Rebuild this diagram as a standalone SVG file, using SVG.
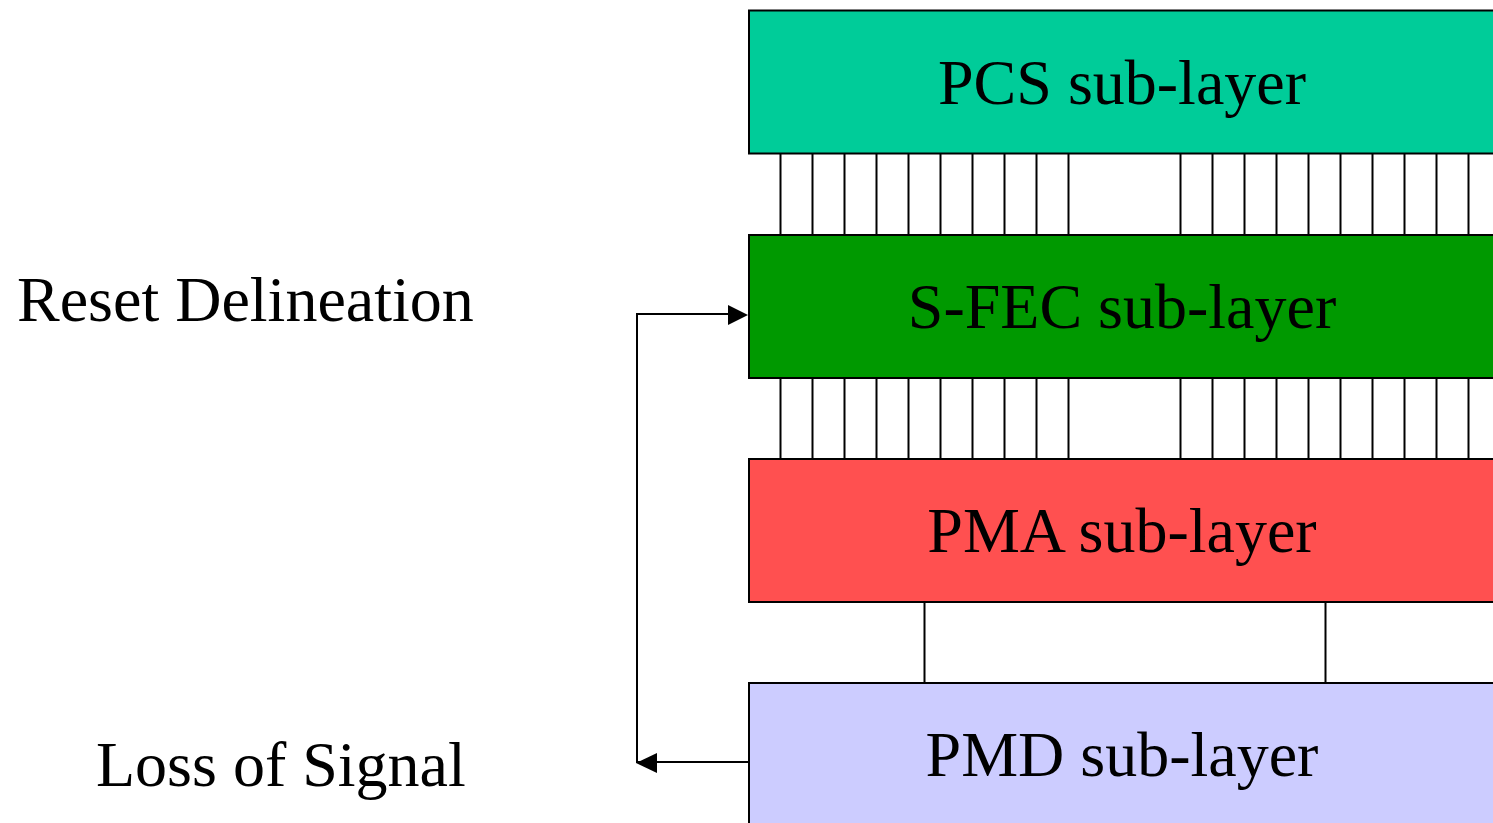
<svg xmlns="http://www.w3.org/2000/svg" width="1493" height="823" viewBox="0 0 1493 823">
<style>
.box{stroke:#000;stroke-width:2}
.lbl{font-family:"Liberation Serif","Times New Roman",serif;font-size:64px;fill:#000}
.ln{stroke:#000;stroke-width:2;fill:none}
.ah{fill:#000;stroke:none}
</style>
<defs>
<g id="bus">
<path class="ln" d="M780.5,0V82M812.5,0V82M844.5,0V82M876.5,0V82M908.5,0V82M940.5,0V82M972.5,0V82M1004.5,0V82M1036.5,0V82M1068.5,0V82M1180.5,0V82M1212.5,0V82M1244.5,0V82M1276.5,0V82M1308.5,0V82M1340.5,0V82M1372.5,0V82M1404.5,0V82M1436.5,0V82M1468.5,0V82"/>
</g>
</defs>
<g id="connectors">
<use href="#bus" y="153"/>
<use href="#bus" y="378"/>
<path class="ln" d="M924.5,602V683M1325.5,602V683"/>
<path class="ln" d="M749,762H637V314H730"/>
<polygon class="ah" points="748,315 728,305 728,325"/>
<polygon class="ah" points="636,763 657,753 657,773"/>
</g>
<g id="pcs">
<rect class="box" x="749" y="10.5" width="760" height="143" fill="#00CC99"/>
<text class="lbl" x="1122" y="104" text-anchor="middle">PCS sub-layer</text>
</g>
<g id="sfec">
<rect class="box" x="749" y="235" width="760" height="143" fill="#009900"/>
<text class="lbl" x="1122" y="328" text-anchor="middle">S-FEC sub-layer</text>
</g>
<g id="pma">
<rect class="box" x="749" y="459" width="760" height="143" fill="#FF5050"/>
<text class="lbl" x="1122" y="552" text-anchor="middle">PMA sub-layer</text>
</g>
<g id="pmd">
<rect class="box" x="749" y="683" width="760" height="160" fill="#CCCCFF"/>
<text class="lbl" x="1122" y="776" text-anchor="middle">PMD sub-layer</text>
</g>
<g id="reset">
<text class="lbl" x="17" y="321">Reset Delineation</text>
</g>
<g id="los">
<text class="lbl" x="96" y="786">Loss of Signal</text>
</g>
</svg>
